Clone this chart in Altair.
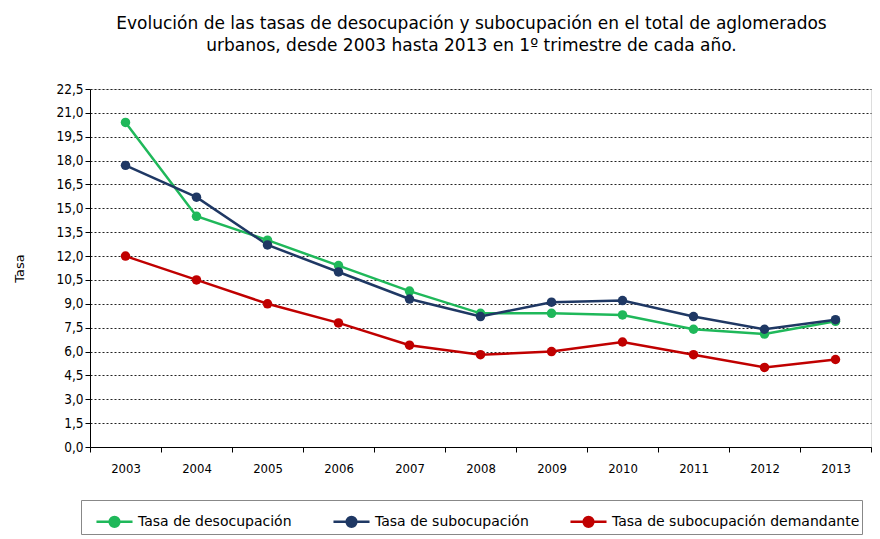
import altair as alt
import pandas as pd

years = ["2003", "2004", "2005", "2006", "2007", "2008", "2009", "2010", "2011", "2012", "2013"]
desocupacion = [20.4, 14.5, 13.0, 11.4, 9.8, 8.4, 8.4, 8.3, 7.4, 7.1, 7.9]
subocupacion = [17.7, 15.7, 12.7, 11.0, 9.3, 8.2, 9.1, 9.2, 8.2, 7.4, 8.0]
demandante = [12.0, 10.5, 9.0, 7.8, 6.4, 5.8, 6.0, 6.6, 5.8, 5.0, 5.5]
series_names = ["Tasa de desocupación", "Tasa de subocupación", "Tasa de subocupación demandante"]
series_colors = ["#1fb85a", "#1f3864", "#c00000"]
y_ticks = [0, 1.5, 3, 4.5, 6, 7.5, 9, 10.5, 12, 13.5, 15, 16.5, 18, 19.5, 21, 22.5]

rows = []
for name, vals in zip(series_names, [desocupacion, subocupacion, demandante]):
    for yr, v in zip(years, vals):
        rows.append({"Año": yr, "Tasa": v, "Serie": name})
df = pd.DataFrame(rows)

color = alt.Color(
    "Serie:N",
    scale=alt.Scale(domain=series_names, range=series_colors),
    legend=alt.Legend(
        title=None,
        orient="none",
        legendX=-9,
        legendY=411,
        direction="horizontal",
        symbolType="M -1 0 L 1 0 M -0.27 0 A 0.27 0.27 0 1 1 0.27 0 A 0.27 0.27 0 1 1 -0.27 0 Z",
        symbolSize=1300,
        symbolStrokeWidth=2.5,
        labelFont="DejaVu Sans",
        labelFontSize=14,
        labelColor="#000",
        labelLimit=400,
        columnPadding=28,
        symbolOffset=12,
        labelOffset=4,
        strokeColor="#888",
        padding=2,
    ),
)

x = alt.X(
    "Año:O",
    sort=years,
    scale=alt.Scale(paddingInner=0, paddingOuter=0),
    axis=alt.Axis(
        title=None,
        labelAngle=0,
        tickBand="extent",
        labelFont="DejaVu Sans Condensed",
        labelFontSize=13,
        labelColor="#000",
        labelPadding=10,
        domainColor="#000",
        tickColor="#000",
        tickSize=5,
        grid=False,
    ),
)

y = alt.Y(
    "Tasa:Q",
    scale=alt.Scale(domain=[0, 22.5], nice=False),
    axis=alt.Axis(
        title="Tasa",
        titleFont="DejaVu Sans",
        titleFontSize=13,
        titleFontWeight="normal",
        titleColor="#000",
        titlePadding=29,
        values=y_ticks,
        labelExpr="replace(format(datum.value, '.1f'), '.', ',')",
        labelFont="DejaVu Sans Condensed",
        labelFontSize=13.5,
        labelColor="#000",
        domainColor="#000",
        tickColor="#000",
        tickSize=5,
        grid=True,
        gridColor="#222",
        gridDash=[2, 2],
        gridWidth=1,
    ),
)

base = alt.Chart(df).encode(x=x, y=y, color=color)
lines = base.mark_line(strokeWidth=2.5)
points = base.mark_point(filled=True, size=90, opacity=1)

chart = (
    alt.layer(lines, points)
    .properties(
        width=781,
        height=358,
        padding={"left": 5, "top": 7, "right": 0, "bottom": 0},
        title=alt.TitleParams(
            text=[
                "Evolución de las tasas de desocupación y subocupación en el total de aglomerados",
                "urbanos, desde 2003 hasta 2013 en 1º trimestre de cada año.",
            ],
            font="DejaVu Sans",
            fontSize=17,
            fontWeight="normal",
            color="#000",
            anchor="middle",
            dx=-9,
            lineHeight=22,
            offset=27,
        ),
    )
    .configure_view(stroke="#777", strokeWidth=1)
    .configure(background="white")
)

chart.save("out.html", embed_options={"renderer": "svg", "actions": False})
